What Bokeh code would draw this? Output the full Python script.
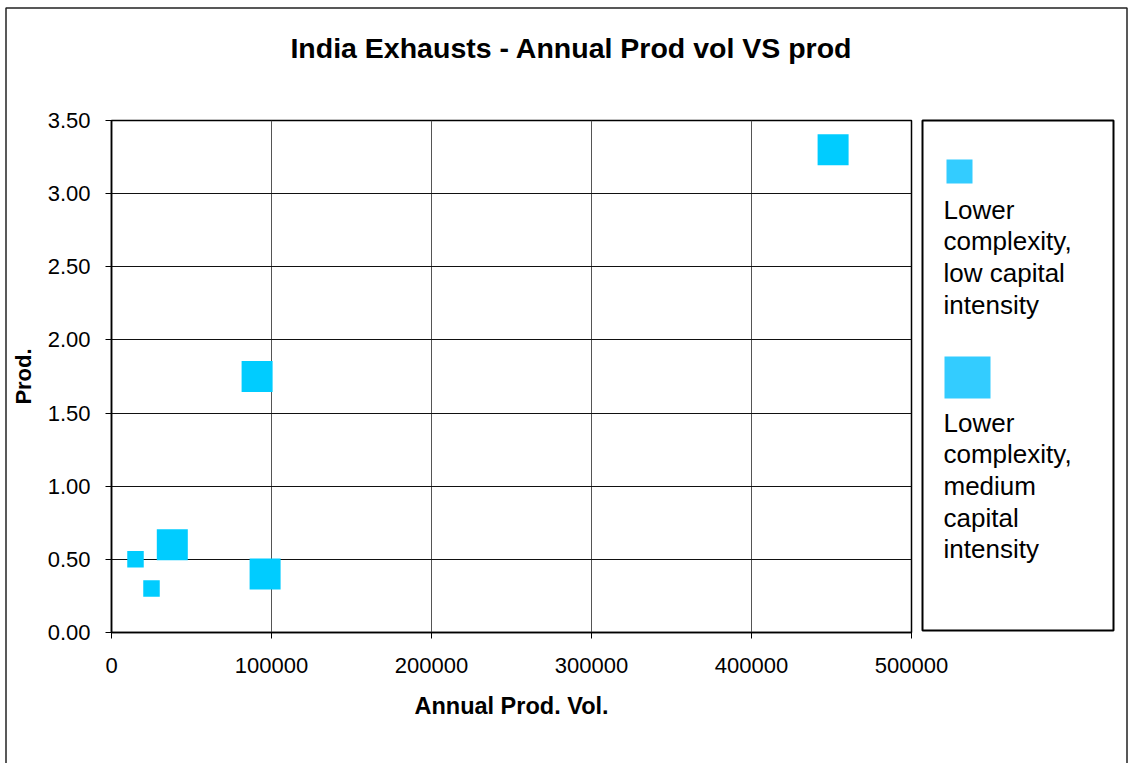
from bokeh.plotting import figure
from bokeh.models import (Range1d, FixedTicker, PrintfTickFormatter, Label, BoxAnnotation, GridBox)
from bokeh.embed import file_html
from bokeh.resources import INLINE

# ---- data ----
title_text = "India Exhausts - Annual Prod vol VS prod"
x_label = "Annual Prod. Vol."
y_label = "Prod."
series_names = ["Lower\ncomplexity,\nlow capital\nintensity",
                "Lower\ncomplexity,\nmedium\ncapital\nintensity"]
low_x = [15000, 25000]
low_y = [0.50, 0.30]
med_x = [38000, 96000, 91000, 451000]
med_y = [0.60, 0.40, 1.75, 3.30]
x_ticks = [0, 100000, 200000, 300000, 400000, 500000]
y_ticks = [0.0, 0.5, 1.0, 1.5, 2.0, 2.5, 3.0, 3.5]

FONT = "Liberation Sans"
PLOT_COLOR = "#00CCFF"
LEG_COLOR = "#33CCFF"
W, H = 1128, 763

# ---- plot layer ----
p = figure(width=W, height=H, output_backend="svg", toolbar_location=None,
           x_range=Range1d(0, 500000), y_range=Range1d(0, 3.5),
           min_border_left=111, min_border_right=217, min_border_top=120,
           min_border_bottom=131)
p.frame_align = False
p.background_fill_color = "white"
p.border_fill_color = "white"
p.outline_line_color = "#000000"
p.outline_line_width = 1.5

for ax in (p.xaxis[0], p.yaxis[0]):
    ax.axis_line_color = "black"
    ax.axis_line_width = 1.5
    ax.major_tick_line_color = "black"
    ax.major_tick_in = 0
    ax.major_tick_out = 6
    ax.minor_tick_line_color = None
    ax.major_label_text_font = FONT
    ax.major_label_text_font_size = "22px"
    ax.major_label_text_color = "black"
    ax.axis_label_text_font = FONT
    ax.axis_label_text_font_style = "bold"
    ax.axis_label_text_color = "black"

p.xaxis.ticker = FixedTicker(ticks=x_ticks)
p.yaxis.ticker = FixedTicker(ticks=y_ticks)
p.xaxis.formatter = PrintfTickFormatter(format="%d")
p.yaxis.formatter = PrintfTickFormatter(format="%.2f")
p.xaxis.major_label_standoff = 19
p.yaxis.major_label_standoff = 15
p.xaxis.axis_label = x_label
p.yaxis.axis_label = y_label
p.xaxis.axis_label_text_font_size = "23.5px"
p.yaxis.axis_label_text_font_size = "22px"
p.xaxis.axis_label_standoff = 17
p.yaxis.axis_label_standoff = 9

p.xgrid.ticker = FixedTicker(ticks=x_ticks)
p.ygrid.ticker = FixedTicker(ticks=y_ticks)
p.xgrid.grid_line_color = "#555555"
p.ygrid.grid_line_color = "#111111"

p.scatter(low_x, low_y, marker="square", size=16.5, fill_color=PLOT_COLOR, line_color=None)
p.scatter(med_x, med_y, marker="square", size=31, fill_color=PLOT_COLOR, line_color=None)

# ---- overlay layer: chart border, title, legend (page pixel coordinates) ----
bg = figure(width=W, height=H, output_backend="svg", toolbar_location=None,
            x_axis_type=None, y_axis_type=None,
            x_range=Range1d(0, W), y_range=Range1d(H, 0),
            min_border_left=0, min_border_right=0, min_border_top=0, min_border_bottom=0)
bg.frame_align = False
bg.grid.visible = False
bg.background_fill_alpha = 0
bg.border_fill_alpha = 0
bg.outline_line_color = None

# chart area border (its bottom edge lies below the visible page)
bg.add_layout(BoxAnnotation(left=5.5, right=1126.5, top=7.5, bottom=H + 40,
                            fill_alpha=0, line_color="#222222", line_alpha=1, line_width=1.5))

bg.add_layout(Label(x=571, y=47, text=title_text, text_font=FONT, text_font_size="28.5px",
                    text_font_style="bold", text_align="center", text_baseline="alphabetic",
                    text_color="black"))
# legend box
bg.add_layout(BoxAnnotation(left=922, right=1113, top=120, bottom=630,
                            fill_alpha=0, line_color="black", line_alpha=1, line_width=2))
# legend markers
bg.add_layout(BoxAnnotation(left=946, right=972, top=159, bottom=183,
                            fill_color=LEG_COLOR, fill_alpha=1, line_color=None))
bg.add_layout(BoxAnnotation(left=944, right=990, top=356, bottom=398,
                            fill_color=LEG_COLOR, fill_alpha=1, line_color=None))
starts = [209, 422]
for name, y0 in zip(series_names, starts):
    for i, line in enumerate(name.split("\n")):
        bg.add_layout(Label(x=943, y=y0 + 31.7 * i, text=line, text_font=FONT,
                            text_font_size="26px", text_align="left",
                            text_baseline="alphabetic", text_color="black"))
bg.scatter([0], [0], size=0, alpha=0)  # keeps the layer non-empty

layout = GridBox(children=[(p, 0, 0), (bg, 0, 0)])
open("out.html", "w").write(file_html(layout, INLINE))
